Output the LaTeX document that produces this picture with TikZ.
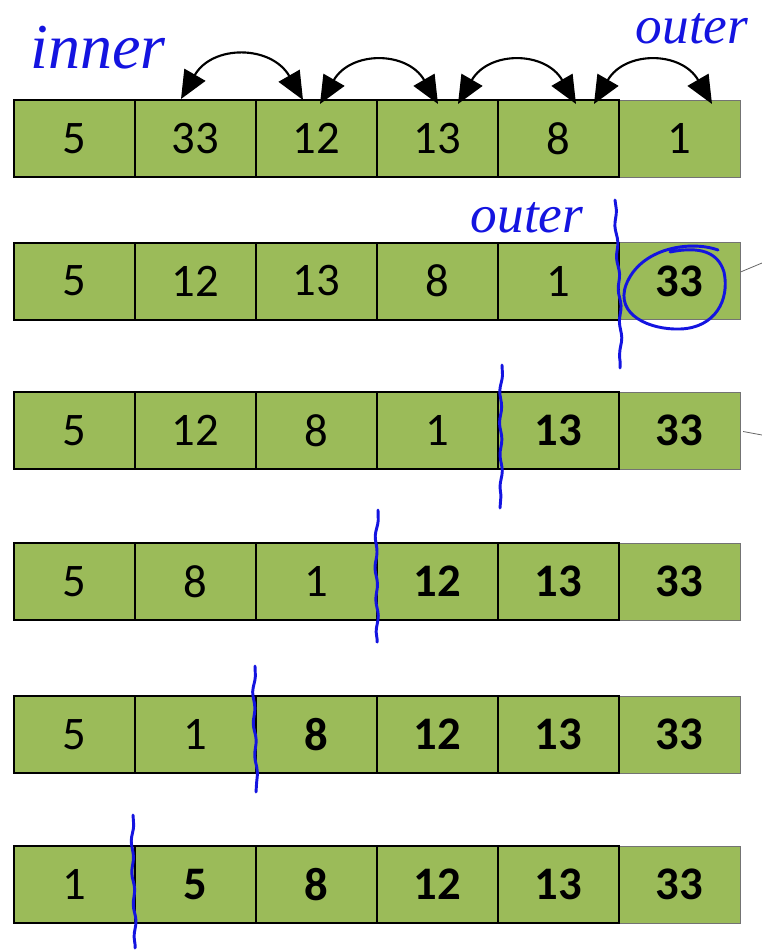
\documentclass[tikz,border=0pt]{standalone}
\usepackage{fontspec}
\setmainfont{Carlito}
\newfontfamily\hand{Liberation Serif}
\usetikzlibrary{arrows.meta,decorations.pathmorphing}
\definecolor{cellgreen}{HTML}{9BBB59}
\definecolor{pen}{HTML}{1414E0}
\begin{document}
\begin{tikzpicture}[x=0.75pt,y=-0.75pt,
  cell/.style={draw=black, line width=1.5pt, fill=cellgreen, minimum width=90.75pt,
    minimum height=57.75pt, inner sep=0pt, font=\fontsize{35}{40}\selectfont},
  lastcell/.style={cell, draw=black!55, line width=0.75pt},
  b/.style={font=\fontsize{35}{40}\selectfont\bfseries},
  swaparrow/.style={line width=1.6pt, black, arrows={Triangle[length=21pt,width=18pt]-Triangle[length=21pt,width=18pt]}},
  penline/.style={pen, line width=2.2pt, line cap=round, line join=round},
  wavy/.style={penline, decorate, decoration={snake, amplitude=0.8pt, segment length=24pt}},
  pentext/.style={pen, inner sep=0pt, anchor=base},
  thin/.style={draw=black!60, line width=0.6pt}]
\useasboundingbox (0,0) rectangle (762,951);
% row 1
\node[lastcell] (a6) at (679.5,138.5) {1};
\node[cell] (a1) at (74.5,138.5) {5};
\node[cell] (a2) at (195.5,138.5) {33};
\node[cell] (a3) at (316.5,138.5) {12};
\node[cell] (a4) at (437.5,138.5) {13};
\node[cell] (a5) at (558.5,138.5) {8};
% row 2
\node[lastcell,b] (b6) at (679.5,281) {33};
\node[cell] (b1) at (74.5,281) {5};
\node[cell] (b2) at (195.5,281) {12};
\node[cell] (b3) at (316.5,281) {13};
\node[cell] (b4) at (437.5,281) {8};
\node[cell] (b5) at (558.5,281) {1};
% row 3
\node[lastcell,b] (c6) at (679.5,430.5) {33};
\node[cell] (c1) at (74.5,430.5) {5};
\node[cell] (c2) at (195.5,430.5) {12};
\node[cell] (c3) at (316.5,430.5) {8};
\node[cell] (c4) at (437.5,430.5) {1};
\node[cell,b] (c5) at (558.5,430.5) {13};
% row 4
\node[lastcell,b] (d6) at (679.5,581.5) {33};
\node[cell] (d1) at (74.5,581.5) {5};
\node[cell] (d2) at (195.5,581.5) {8};
\node[cell] (d3) at (316.5,581.5) {1};
\node[cell,b] (d4) at (437.5,581.5) {12};
\node[cell,b] (d5) at (558.5,581.5) {13};
% row 5
\node[lastcell,b] (e6) at (679.5,734.5) {33};
\node[cell] (e1) at (74.5,734.5) {5};
\node[cell] (e2) at (195.5,734.5) {1};
\node[cell,b] (e3) at (316.5,734.5) {8};
\node[cell,b] (e4) at (437.5,734.5) {12};
\node[cell,b] (e5) at (558.5,734.5) {13};
% row 6
\node[lastcell,b] (f6) at (679.5,884.5) {33};
\node[cell] (f1) at (74.5,884.5) {1};
\node[cell,b] (f2) at (195.5,884.5) {5};
\node[cell,b] (f3) at (316.5,884.5) {8};
\node[cell,b] (f4) at (437.5,884.5) {12};
\node[cell,b] (f5) at (558.5,884.5) {13};
% swap arrows
\coordinate (s1) at (181,99);
\coordinate (s2) at (303,100);
\coordinate (s3) at (320,104);
\coordinate (s4) at (438,104);
\coordinate (s5) at (458,104);
\coordinate (s6) at (576,104);
\coordinate (s7) at (594,104);
\coordinate (s8) at (712,104);
\draw[swaparrow] (s1) .. controls (212.5,44.3) and (271.5,45) .. (s2);
\draw[swaparrow] (s3) .. controls (350.8,50.7) and (407.2,50.7) .. (s4);
\draw[swaparrow] (s5) .. controls (488.8,50.7) and (545.2,50.7) .. (s6);
\draw[swaparrow] (s7) .. controls (624.8,50.7) and (681.2,50.7) .. (s8);
% handwriting
\node[pentext] (inner) at (98,68) {\hand\itshape\fontsize{48}{52}\selectfont inner};
\node[pentext] (outer1) at (692,43) {\hand\itshape\fontsize{40}{44}\selectfont outer};
\node[pentext] (outer2) at (527,232) {\hand\itshape\fontsize{40}{44}\selectfont outer};
% dividing lines
\draw[wavy] (615,200) .. controls (617,260) and (622,300) .. (620,368);
\draw[wavy] (502,365) .. controls (499,420) and (504,460) .. (500,508);
\draw[wavy] (378,510) .. controls (374,560) and (380,600) .. (377,642);
\draw[wavy] (255,666) .. controls (252,710) and (259,750) .. (256,792);
\draw[wavy] (133,815) .. controls (131,870) and (137,900) .. (135,948);
% circle around 33
\draw[penline] (718,250) .. controls (690,240) and (640,248) .. (626,285)
  .. controls (615,315) and (650,330) .. (680,329)
  .. controls (715,328) and (730,300) .. (724,272)
  .. controls (718,252) and (700,246) .. (670,252);
% small grey leaders
\coordinate (g1) at (762,263);
\coordinate (g2) at (762,435);
\draw[thin] (b6.east) ++(0,-9) -- (g1);
\draw[thin] ([xshift=2pt]c6.east) ++(0,1) -- (g2);
\end{tikzpicture}
\end{document}
